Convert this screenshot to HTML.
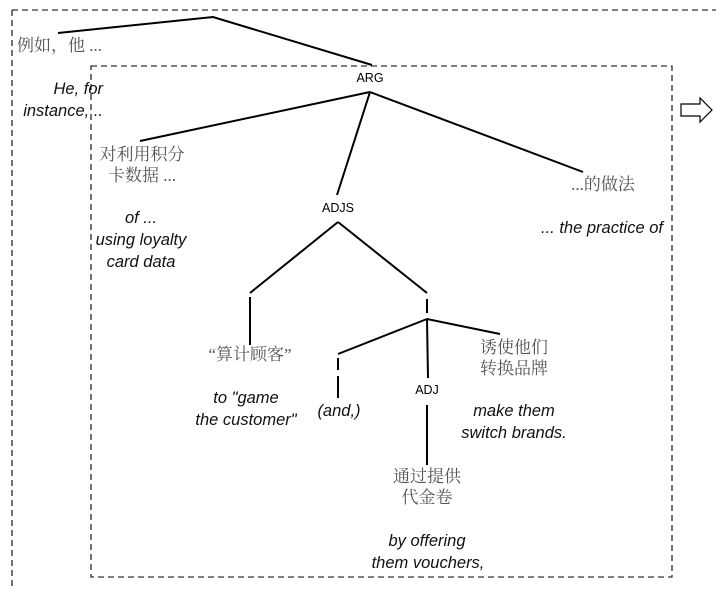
<!DOCTYPE html>
<html><head><meta charset="utf-8"><style>
html,body{margin:0;padding:0;background:#fff;}
svg{display:block;}
.zh{font-family:"Liberation Serif","Noto Serif CJK SC","Noto Sans CJK SC",serif;font-size:17px;fill:#555;}
.en{font-family:"Liberation Sans",sans-serif;font-size:16.5px;font-style:italic;fill:#111;}
.lb{font-family:"Liberation Sans",sans-serif;font-size:12.5px;fill:#000;}
</style></head><body>
<svg width="716" height="590" viewBox="0 0 716 590" xmlns="http://www.w3.org/2000/svg">
<g stroke="#000" stroke-width="1.1" fill="none" stroke-dasharray="6,4">
<line x1="12" y1="10" x2="716" y2="10"/>
<line x1="12" y1="10" x2="12" y2="590"/>
<rect x="91" y="66" width="581" height="511"/>
</g>
<g stroke="#000" stroke-width="2" fill="none" stroke-linecap="butt">
<polyline points="58,33 213,17 372,65"/>
<line x1="370" y1="92" x2="140" y2="141"/>
<line x1="370" y1="92" x2="337" y2="195"/>
<line x1="370" y1="92" x2="583" y2="172"/>
<line x1="338" y1="222" x2="250" y2="293"/>
<line x1="338" y1="222" x2="427" y2="293"/>
<line x1="250" y1="297" x2="250" y2="345"/>
<line x1="427" y1="299" x2="427" y2="313"/>
<polyline points="338,354 427,319 500,334"/>
<line x1="427" y1="319" x2="428" y2="378"/>
<line x1="338" y1="358" x2="338" y2="370"/>
<line x1="338" y1="376" x2="338" y2="398"/>
<line x1="427" y1="405" x2="427" y2="465"/>
</g>
<polygon points="681,104 700,104 700,98 712,110 700,122 700,116 681,116" fill="#fff" stroke="#000" stroke-width="1.2"/>
<text class="zh" x="17" y="51">例如，他 ...</text>
<text class="en" x="103" y="94" text-anchor="end">He, for</text>
<text class="en" x="103" y="116" text-anchor="end">instance, ..</text>
<text class="lb" x="370" y="82" text-anchor="middle">ARG</text>
<text class="zh" x="142" y="160" text-anchor="middle">对利用积分</text>
<text class="zh" x="142" y="181" text-anchor="middle">卡数据 ...</text>
<text class="en" x="141" y="223" text-anchor="middle">of ...</text>
<text class="en" x="141" y="245" text-anchor="middle">using loyalty</text>
<text class="en" x="141" y="267" text-anchor="middle">card data</text>
<text class="lb" x="338" y="212" text-anchor="middle">ADJS</text>
<text class="zh" x="603" y="190" text-anchor="middle">...的做法</text>
<text class="en" x="602" y="233" text-anchor="middle">... the practice of</text>
<text class="zh" x="250" y="360" text-anchor="middle">“算计顾客”</text>
<text class="en" x="246" y="403" text-anchor="middle">to "game</text>
<text class="en" x="246" y="425" text-anchor="middle">the customer"</text>
<text class="en" x="339" y="416" text-anchor="middle">(and,)</text>
<text class="lb" x="427" y="394" text-anchor="middle">ADJ</text>
<text class="zh" x="514" y="353" text-anchor="middle">诱使他们</text>
<text class="zh" x="514" y="374" text-anchor="middle">转换品牌</text>
<text class="en" x="514" y="416" text-anchor="middle">make them</text>
<text class="en" x="514" y="438" text-anchor="middle">switch brands.</text>
<text class="zh" x="427" y="482" text-anchor="middle">通过提供</text>
<text class="zh" x="427" y="503" text-anchor="middle">代金卷</text>
<text class="en" x="427" y="546" text-anchor="middle">by offering</text>
<text class="en" x="428" y="568" text-anchor="middle">them vouchers,</text>
</svg>
</body></html>
